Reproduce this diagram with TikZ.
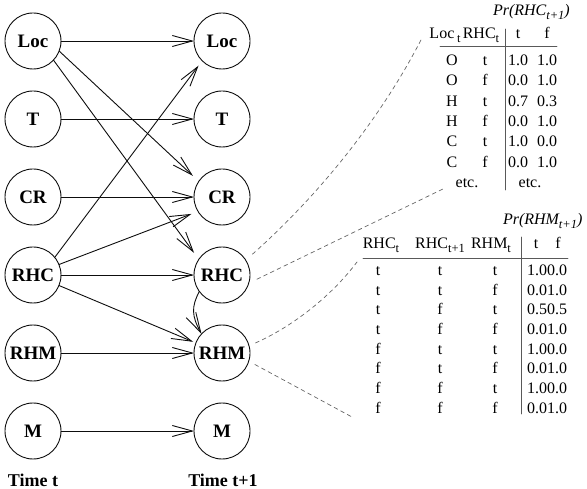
\documentclass[tikz,border=0pt]{standalone}
\usepackage{fontspec}
\setmainfont{Liberation Serif}
\usetikzlibrary{arrows.meta}
\definecolor{NetInk}{gray}{0.05}
\definecolor{NetGuide}{gray}{0.40}
\definecolor{NetRule}{gray}{0.35}
\newcommand{\lowidx}[1]{\raisebox{-4pt}{\fontsize{12.5}{12.5}\selectfont #1}}
\tikzset{
    net/diagram/.style={
        line width=0.9pt,
        line cap=round,
        line join=round,
        every node/.style={inner sep=0pt, outer sep=0pt}
    },
    net/var/.style={
        circle, draw=NetInk, line width=0.9pt, minimum size=56pt,
        font=\fontsize{19}{19}\selectfont\bfseries
    },
    net/time/.style={font=\fontsize{18}{18}\selectfont\bfseries, anchor=base},
    net/arc/.style={
        draw=NetInk, line width=0.9pt,
        -{Straight Barb[length=20pt, width=11pt, line width=0.9pt]}
    },
    net/leader/.style={
        draw=NetGuide, line width=0.7pt,
        dash pattern=on 4pt off 3.5pt, shorten <=9pt
    },
    net/cell/.style={font=\fontsize{16}{16}\selectfont, anchor=base},
    net/title/.style={font=\fontsize{16}{16}\selectfont\itshape, anchor=base west},
    net/rule/.style={draw=NetRule, line width=0.8pt}
}
\begin{document}
\begin{tikzpicture}[net/diagram, x=1pt, y=-1pt]
    \useasboundingbox (0,0) rectangle (587,489);
    % the two time slices
    \foreach \name/\row in {Loc/41, T/119, CR/197, RHC/275, RHM/353, M/431} {
        \node[net/var] (\name1) at (33,\row) {\name};
        \node[net/var] (\name2) at (222,\row) {\name};
    }
    \node[net/time] (time1) at (33,486) {Time t};
    \node[net/time] (time2) at (223,486) {Time t+1};
    % arcs from t to t+1
    \foreach \name in {Loc, T, CR, RHC, RHM, M}
        \draw[net/arc] (\name1) -- (\name2);
    \draw[net/arc, shorten >=8pt] (Loc1.-21) -- (CR2.146);
    \draw[net/arc, shorten >=8pt] (Loc1.-43) -- (RHC2.146);
    \draw[net/arc, shorten >=6pt] (RHC1.39) -- (Loc2.-135);
    \draw[net/arc, shorten >=7pt] (RHC1.22) -- (CR2.-149);
    \draw[net/arc, shorten >=3pt] (RHC1.-22) -- (RHM2.159);
    \draw[net/arc] (RHC2.216) .. controls +(-8,15) and +(-10,-18) .. (RHM2.137);

    % table for RHC
    \node[net/title] (pr1) at (493,16) {Pr(RHC\lowidx{t+1})};
    \node[net/cell] (h1loc) at (445,38.5) {Loc\,\lowidx{t}};
    \node[net/cell] (h1rhc) at (481,38.5) {RHC\lowidx{t}};
    \node[net/cell] (h1t) at (518,38.5) {t};
    \node[net/cell] (h1f) at (547,38.5) {f};
    \draw[net/rule] (440,46) -- (557,46);
    \draw[net/rule] (505,29) -- (505,190);
    \foreach \loc/\rhc/\pt/\pf [count=\i] in
        {O/t/1.0/1.0, O/f/0.0/1.0, H/t/0.7/0.3, H/f/0.0/1.0, C/t/1.0/0.0, C/f/0.0/1.0} {
        \node[net/cell] (a\i-loc) at (452,45+20.4*\i) {\loc};
        \node[net/cell] (a\i-rhc) at (485,45+20.4*\i) {\rhc};
        \node[net/cell] (a\i-t) at (518,45+20.4*\i) {\pt};
        \node[net/cell] (a\i-f) at (547,45+20.4*\i) {\pf};
    }
    \node[net/cell] (a7-in) at (467,187.8) {etc.};
    \node[net/cell] (a7-out) at (530,187.8) {etc.};

    % table for RHM
    \node[net/title] (pr2) at (503,225) {Pr(RHM\lowidx{t+1})};
    \node[net/cell] (h2rhc) at (381,248.5) {RHC\lowidx{t}};
    \node[net/cell] (h2rhcn) at (440,248.5) {RHC\lowidx{t+1}};
    \node[net/cell] (h2rhm) at (491,248.5) {RHM\lowidx{t}};
    \node[net/cell] (h2t) at (536,248.5) {t};
    \node[net/cell] (h2f) at (558,248.5) {f};
    \draw[net/rule] (363,258) -- (568,258);
    \draw[net/rule] (521,237) -- (521,414);
    \foreach \c/\n/\m/\pt/\pf [count=\i] in
        {t/t/t/1.0/0.0, t/t/f/0.0/1.0, t/f/t/0.5/0.5, t/f/f/0.0/1.0,
         f/t/t/1.0/0.0, f/t/f/0.0/1.0, f/f/t/1.0/0.0, f/f/f/0.0/1.0} {
        \node[net/cell] (b\i-c) at (378,255.7+19.7*\i) {\c};
        \node[net/cell] (b\i-n) at (440,255.7+19.7*\i) {\n};
        \node[net/cell] (b\i-m) at (495,255.7+19.7*\i) {\m};
        \node[net/cell] (b\i-t) at (537,255.7+19.7*\i) {\pt};
        \node[net/cell] (b\i-f) at (557,255.7+19.7*\i) {\pf};
    }

    % leaders from nodes to their tables
    \coordinate (tab1nw) at (422,38);
    \coordinate (tab1sw) at (445,188);
    \coordinate (tab2nw) at (357,262);
    \coordinate (tab2sw) at (352,417);
    \draw[net/leader] (RHC2.32) .. controls +(72,-64) and +(-42,82) .. (tab1nw);
    \draw[net/leader] (RHC2.-17) -- (tab1sw);
    \draw[net/leader, shorten <=7pt] (RHM2.15) .. controls +(41,-18) and +(-27,36) .. (tab2nw);
    \draw[net/leader, shorten <=7pt] (RHM2.-17) -- (tab2sw);
\end{tikzpicture}
\end{document}
